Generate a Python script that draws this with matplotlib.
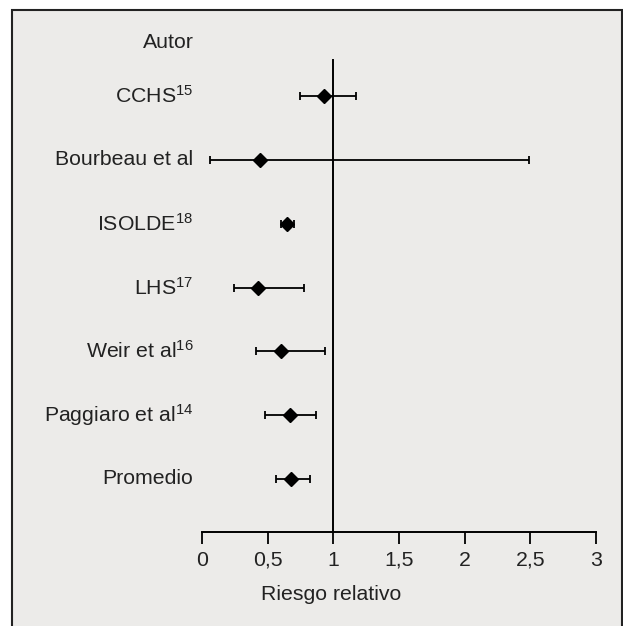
import matplotlib
matplotlib.use("Agg")
import matplotlib.pyplot as plt
from matplotlib.patches import Rectangle
from matplotlib.transforms import blended_transform_factory

plt.rcParams['font.family'] = ['Liberation Sans', 'DejaVu Sans']
plt.rcParams['mathtext.fontset'] = 'custom'
plt.rcParams['mathtext.rm'] = 'Liberation Sans'
plt.rcParams['mathtext.it'] = 'Liberation Sans'
plt.rcParams['mathtext.bf'] = 'Liberation Sans'

# Data
authors = ["CCHS", "Bourbeau et al", "ISOLDE", "LHS", "Weir et al", "Paggiaro et al", "Promedio"]
refs = ["15", "", "18", "17", "16", "14", ""]
rr = [0.93, 0.44, 0.65, 0.43, 0.60, 0.67, 0.68]
ci_low = [0.75, 0.06, 0.60, 0.24, 0.41, 0.48, 0.56]
ci_high = [1.17, 2.49, 0.70, 0.78, 0.94, 0.87, 0.82]
xticks = [0, 0.5, 1, 1.5, 2, 2.5, 3]
xtick_labels = ["0", "0,5", "1", "1,5", "2", "2,5", "3"]
header = "Autor"
xlabel = "Riesgo relativo"

W, H = 623, 626
fig = plt.figure(figsize=(W / 100, H / 100), dpi=100)
fig.patch.set_facecolor('white')
bg = '#ECEBE9'
frame = Rectangle((11.5 / W, -0.05), (621.5 - 11.5) / W, 1.05 - 10.5 / H,
                  transform=fig.transFigure, facecolor=bg, edgecolor='#222222',
                  linewidth=1.5, zorder=-10)
fig.patches.append(frame)

# axes: x 0..3 -> px 202..596 ; bottom spine at px 532
left_px, right_px = 202, 596
bottom_px, top_px = 532, 30
ax = fig.add_axes([left_px / W, 1 - bottom_px / H, (right_px - left_px) / W, (bottom_px - top_px) / H])
ax.set_facecolor('none')
ax.patch.set_alpha(0)
ax.set_zorder(5)

n = len(authors)
ypos = list(range(n, 0, -1))
unit = (479 - 96) / 6.0
ybot = 1 - (532 - 479) / unit
ytop = n + (96 - 30) / unit
ax.set_xlim(0, 3)
ax.set_ylim(ybot, ytop)

ax.errorbar(rr, ypos, xerr=[[r - l for r, l in zip(rr, ci_low)], [h - r for r, h in zip(rr, ci_high)]],
            fmt='D', color='black', ms=7.5, elinewidth=1.3, capsize=2.6, capthick=1.3, zorder=3)

# reference line at 1
vtop = n + (96 - 60) / unit
ax.plot([1, 1], [ybot, vtop], color='black', lw=1.4, zorder=2)

fs = 15.3
tc = '#222222'
for y, a, r in zip(ypos, authors, refs):
    lab = a if not r else a + r"$^{\mathregular{" + r + "}}$"
    ax.text(-0.065, y, lab, ha='right', va='center', fontsize=fs, color=tc, clip_on=False)
ax.text(-0.065, n + (96 - 43) / unit, header, ha='right', va='center', fontsize=fs,
        color=tc, clip_on=False)

for s in ['top', 'right', 'left']:
    ax.spines[s].set_visible(False)
ax.spines['bottom'].set_linewidth(1.4)
ax.set_yticks([])
ax.set_xticks(xticks)
ax.set_xticklabels(xtick_labels, fontsize=fs, color=tc)
ax.tick_params(axis='x', direction='out', length=8.6, width=1.3, pad=5)

trans = blended_transform_factory(ax.transData, fig.transFigure)
ax.text(0.98, 1 - 594 / H, xlabel, transform=trans, ha='center', va='center', fontsize=fs,
        color=tc)

fig.savefig('out.png', dpi=100, facecolor='white')
